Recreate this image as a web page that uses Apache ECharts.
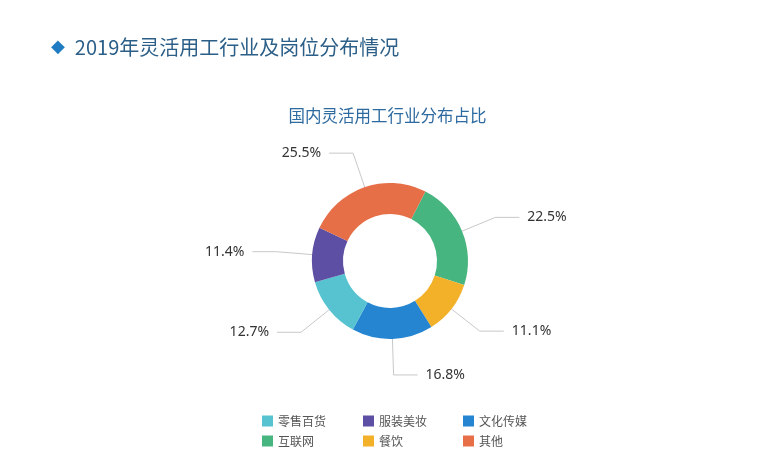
<!DOCTYPE html>
<html><head><meta charset="utf-8">
<script src="https://cdn.jsdelivr.net/npm/echarts@6/dist/echarts.min.js"></script>
<style>html,body{margin:0;padding:0;background:#fff}#c{width:775px;height:463px}</style>
</head><body><div id="c"></div>
<script>
// pie order (clockwise from top-right)
const categories = ['互联网', '餐饮', '文化传媒', '零售百货', '服装美妆', '其他'];
const values = [22.5, 11.1, 16.8, 12.7, 11.4, 25.5];
const colors = ['#47b580', '#f3b12a', '#2585d0', '#58c3d0', '#5c4fa4', '#e66f47'];
const legendCol1 = ['零售百货', '互联网'];
const legendCol2 = ['服装美妆', '餐饮'];
const legendCol3 = ['文化传媒', '其他'];

const chart = echarts.init(document.getElementById('c'));
const legendBase = {
  orient: 'vertical', top: 410, itemWidth: 11, itemHeight: 11, itemGap: 8,
  icon: 'rect',
  textStyle: {fontSize: 12, color: '#555', fontFamily: 'Noto Sans CJK SC'}
};
chart.setOption({
  animation: false,
  title: [{
    text: '{d|◆}  {t|2019年灵活用工行业及岗位分布情况}',
    left: 46, top: 32,
    textStyle: {fontWeight: 'normal', rich: {
      d: {fontSize: 18, color: '#1f7cc2', fontFamily: 'DejaVu Sans'},
      t: {fontSize: 20, color: '#2c5f88', fontFamily: 'Noto Sans CJK SC', fontWeight: 'normal'}
    }}
  }, {
    text: '国内灵活用工行业分布占比',
    left: 'center', top: 102,
    textStyle: {fontSize: 16.5, fontWeight: 'normal', color: '#2d6aa0', fontFamily: 'Noto Sans CJK SC'}
  }],
  legend: [
    Object.assign({left: 257, data: legendCol1}, legendBase),
    Object.assign({left: 358, data: legendCol2}, legendBase),
    Object.assign({left: 458, data: legendCol3}, legendBase)
  ],
  series: [{
    type: 'pie',
    center: [390, 261],
    radius: [47, 78],
    startAngle: 63,
    clockwise: true,
    color: colors,
    avoidLabelOverlap: false,
    label: {
      formatter: '{c}%', fontSize: 14, color: '#333',
      fontFamily: 'Noto Sans', distanceToLabelLine: 8
    },
    labelLine: {length: 36, length2: 24, lineStyle: {color: '#c8c8c8', width: 1}},
    data: categories.map((n, i) => ({name: n, value: values[i]}))
  }]
});
</script></body></html>
